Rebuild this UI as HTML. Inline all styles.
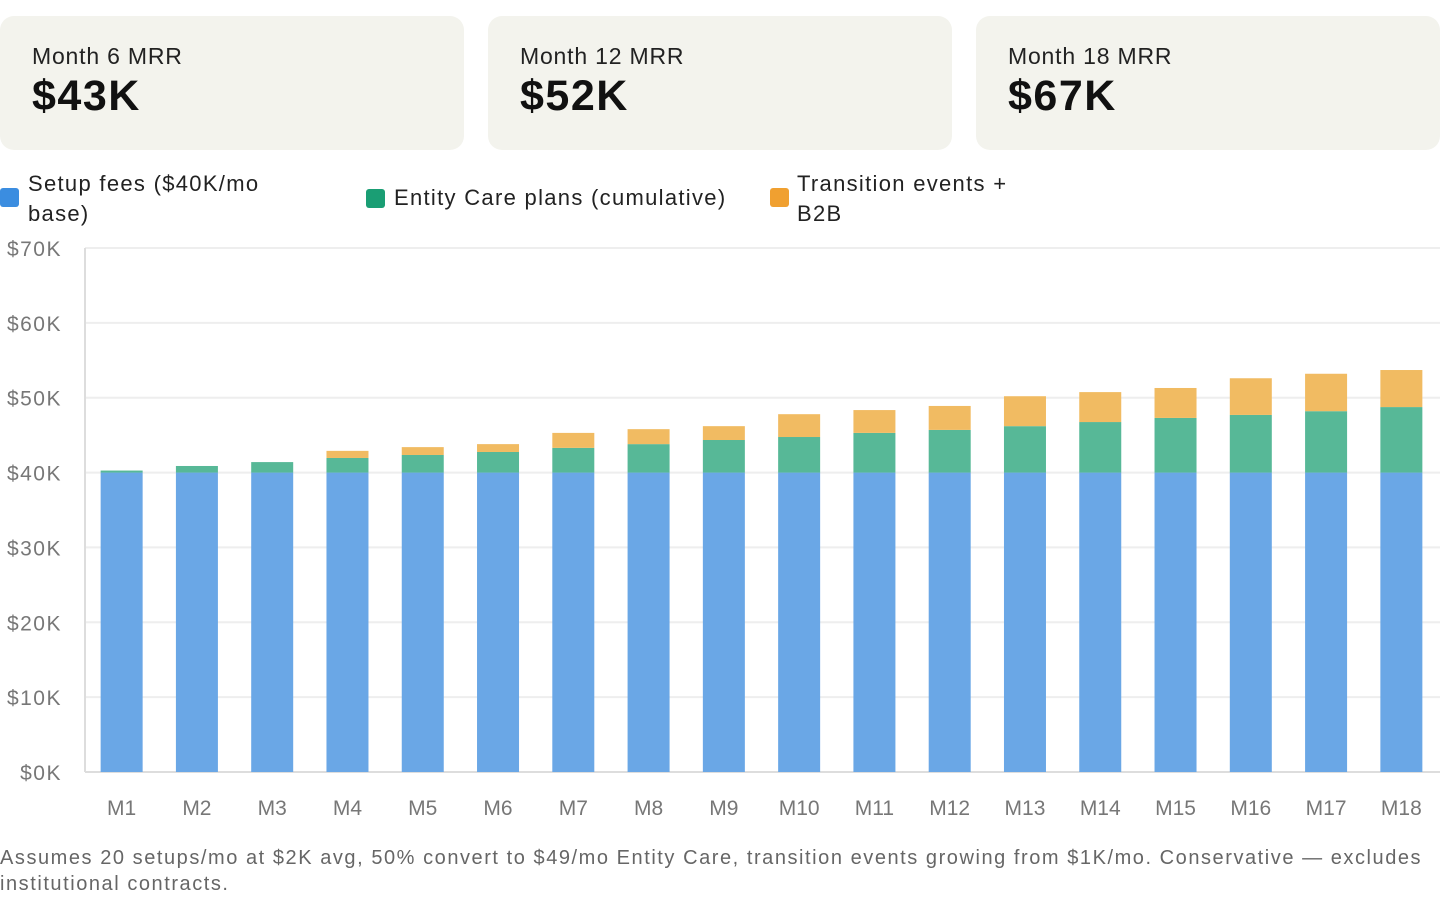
<!DOCTYPE html>
<html><head><meta charset="utf-8"><style>
body{margin:0;width:1440px;height:916px;background:#fff;font-family:"Liberation Sans",sans-serif;overflow:hidden;position:relative}
.card{position:absolute;top:16px;width:464px;height:134px;background:#f3f3ed;border-radius:14px}
.card .l{position:absolute;left:32px;top:27px;font-size:23px;color:#222;letter-spacing:0.8px}
.card .v{position:absolute;left:32px;top:56px;font-size:43px;font-weight:bold;color:#111;letter-spacing:1.5px}
.leg{position:absolute;top:169px;font-size:22px;color:#222;line-height:30px;letter-spacing:1.3px}
.sw{position:absolute;left:0;top:19px;width:19px;height:19px;border-radius:3px}
.foot{position:absolute;left:0;top:845px;font-size:20px;color:#666;line-height:26px;width:1440px;letter-spacing:1.55px}
</style></head><body>
<div class="card" style="left:0"><div class="l">Month 6 MRR</div><div class="v">$43K</div></div>
<div class="card" style="left:488px"><div class="l">Month 12 MRR</div><div class="v">$52K</div></div>
<div class="card" style="left:976px"><div class="l">Month 18 MRR</div><div class="v">$67K</div></div>
<div class="leg" style="left:0;width:300px;padding-left:28px"><span class="sw" style="background:#3b8de0"></span>Setup fees ($40K/mo<br>base)</div>
<div class="leg" style="left:366px;top:183px;padding-left:28px"><span class="sw" style="background:#1a9e74;top:6px"></span>Entity Care plans (cumulative)</div>
<div class="leg" style="left:770px;padding-left:27px"><span class="sw" style="background:#f0a030"></span>Transition events +<br>B2B</div>
<svg id="chart" width="1440" height="916" style="position:absolute;left:0;top:0"></svg>
<div class="foot">Assumes 20 setups/mo at $2K avg, 50% convert to $49/mo Entity Care, transition events growing from $1K/mo. Conservative — excludes institutional contracts.</div>
<script>
const categories=["M1","M2","M3","M4","M5","M6","M7","M8","M9","M10","M11","M12","M13","M14","M15","M16","M17","M18"];
const setupFees=[40,40,40,40,40,40,40,40,40,40,40,40,40,40,40,40,40,40];
const entityCare=[0.27,0.88,1.4,1.95,2.35,2.75,3.3,3.8,4.35,4.75,5.3,5.7,6.2,6.75,7.3,7.7,8.2,8.75];
const transition=[0,0,0,0.95,1.05,1.05,2.0,2.0,1.85,3.05,3.05,3.2,4.0,4.0,4.0,4.9,5.0,4.95];
const yTicks=[0,10,20,30,40,50,60,70];
const yLabels=["$0K","$10K","$20K","$30K","$40K","$50K","$60K","$70K"];
const NS="http://www.w3.org/2000/svg",svg=document.getElementById('chart');
const X0=85,X1=1440,Y0=772,Y1=248;
const y=v=>Y0-(v/70)*(Y0-Y1);
const band=(X1-X0)/categories.length;
const xc=i=>X0+band*(i+0.5);
function mk(t,a){const e=document.createElementNS(NS,t);for(const k in a)e.setAttribute(k,a[k]);svg.appendChild(e);return e;}
yTicks.forEach((v,i)=>{
 const g=mk('line',{x1:X0,x2:X1,y1:y(v),y2:y(v),stroke:i==0?'#ddd':'#eee','stroke-width':2});
 
 
 const t=mk('text',{x:62,y:y(v)+8,'text-anchor':'end','font-size':21,fill:'#777','font-family':'Liberation Sans','letter-spacing':'1.5'});
 t.textContent=yLabels[i];
 
 
});
const ax=mk('line',{x1:X0,x2:X0,y1:Y1,y2:Y0,stroke:'#ddd','stroke-width':2});


const bw=42;
categories.forEach((c,i)=>{
 let base=0;
 [[setupFees,'#6aa7e6','bar-setup'],[entityCare,'#57b897','bar-entity-care'],[transition,'#f1bb62','bar-transition']].forEach(([arr,col,nm],k)=>{
  const v=arr[i];if(v<=0){return;}
  const top=y(base+v),bot=y(base);
  const r=mk('rect',{x:xc(i)-bw/2-1,y:top,width:bw,height:bot-top,fill:col});
  
  
  base+=v;
 });
 const t=mk('text',{x:xc(i)-1,y:815,'text-anchor':'middle','font-size':21,fill:'#777','font-family':'Liberation Sans'});
 t.textContent=c;
 
 
});
</script>
</body></html>
